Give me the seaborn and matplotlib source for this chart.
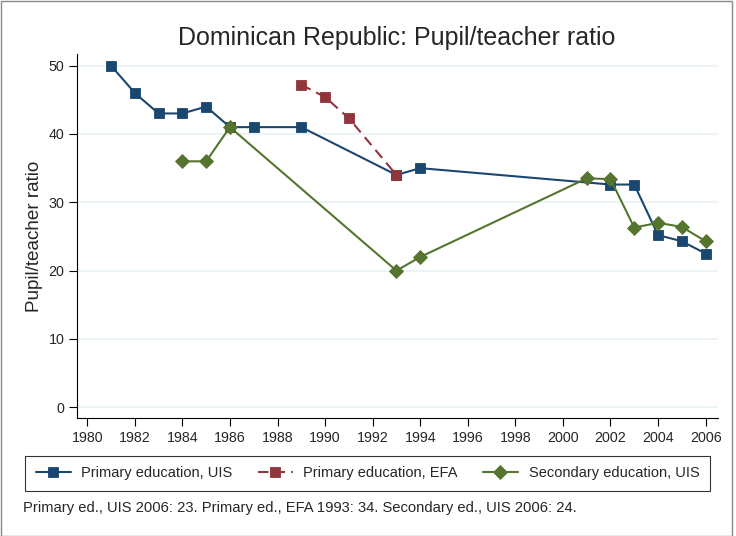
import matplotlib
matplotlib.use("Agg")
import matplotlib.pyplot as plt
import seaborn as sns
import pandas as pd
from matplotlib.patches import Rectangle

primary_uis_years = [1981, 1982, 1983, 1984, 1985, 1986, 1987, 1989, 1993, 1994, 2002, 2003, 2004, 2005, 2006]
primary_uis_vals = [50, 46, 43, 43, 44, 41, 41, 41, 34, 35, 32.6, 32.6, 25.2, 24.3, 22.5]

primary_efa_years = [1989, 1990, 1991, 1993]
primary_efa_vals = [47.2, 45.4, 42.3, 34]

secondary_years = [1984, 1985, 1986, 1993, 1994, 2001, 2002, 2003, 2004, 2005, 2006]
secondary_vals = [36, 36, 41, 20, 22, 33.5, 33.4, 26.3, 27.0, 26.4, 24.3]

labels = ["Primary education, UIS", "Primary education, EFA", "Secondary education, UIS"]
colors = ["#1a476f", "#90353b", "#55752f"]
xticks = list(range(1980, 2007, 2))
yticks = [0, 10, 20, 30, 40, 50]
title = "Dominican Republic: Pupil/teacher ratio"
ylabel = "Pupil/teacher ratio"
note = "Primary ed., UIS 2006: 23. Primary ed., EFA 1993: 34. Secondary ed., UIS 2006: 24."

sns.set_style("white")
plt.rcParams['font.family'] = ['Liberation Sans', 'DejaVu Sans']

W, H = 736, 536
fig = plt.figure(figsize=(W/100, H/100), dpi=100)
ax = fig.add_axes([77/W, (H-418)/H, (718-77)/W, (418-54)/H])

df1 = pd.DataFrame({"year": primary_uis_years, "val": primary_uis_vals})
df2 = pd.DataFrame({"year": primary_efa_years, "val": primary_efa_vals})
df3 = pd.DataFrame({"year": secondary_years, "val": secondary_vals})

sns.lineplot(data=df1, x="year", y="val", ax=ax, color=colors[0], marker="s", markersize=7.2,
             markeredgewidth=0.6, markeredgecolor=colors[0], linewidth=1.5, label=labels[0])
sns.lineplot(data=df2, x="year", y="val", ax=ax, color=colors[1], marker="s", markersize=7.2,
             markeredgewidth=0.6, markeredgecolor=colors[1], linewidth=1.5, linestyle=(0, (5, 3)), label=labels[1])
sns.lineplot(data=df3, x="year", y="val", ax=ax, color=colors[2], marker="D", markersize=7,
             markeredgewidth=0.6, markeredgecolor=colors[2], linewidth=1.5, label=labels[2])

ax.set_xlim(1979.57, 2006.52)
ax.set_ylim(-1.56, 51.7)
ax.set_xticks(xticks)
ax.set_yticks(yticks)
ax.tick_params(axis="both", labelsize=10.3, length=6, width=0.8, direction="out", color="black",
               bottom=True, left=True, pad=3)
ax.grid(axis="y", color="#eaf2f3", linewidth=1.2)
ax.set_axisbelow(True)
for s in ["top", "right"]:
    ax.spines[s].set_visible(False)
for s in ["left", "bottom"]:
    ax.spines[s].set_color("black")
    ax.spines[s].set_linewidth(0.8)
ax.set_xlabel("")
ax.set_ylabel(ylabel, fontsize=13.6, labelpad=4)

fig.text(397/W, 1 - 38/H, title, ha="center", va="center", fontsize=18)

handles, labs = ax.get_legend_handles_labels()
ax.get_legend().remove()
leg = fig.legend(handles, labs, loc="lower left", ncol=3, mode="expand",
                 bbox_to_anchor=(25/W, (H-491)/H, (710-25)/W, (491-457)/H),
                 frameon=True, fancybox=False, fontsize=10.5, handlelength=2.4,
                 handletextpad=0.75, borderaxespad=0, borderpad=0.72, edgecolor="black")
leg.get_frame().set_linewidth(0.8)

fig.text(23/W, 1 - 508/H, note, ha="left", va="center", fontsize=10.6)

fig.patches.append(Rectangle((1/W, 0.5/H), 731/W, 535/H, transform=fig.transFigure,
                             fill=False, edgecolor="#888888", linewidth=1))

fig.savefig("out.png", dpi=100)
